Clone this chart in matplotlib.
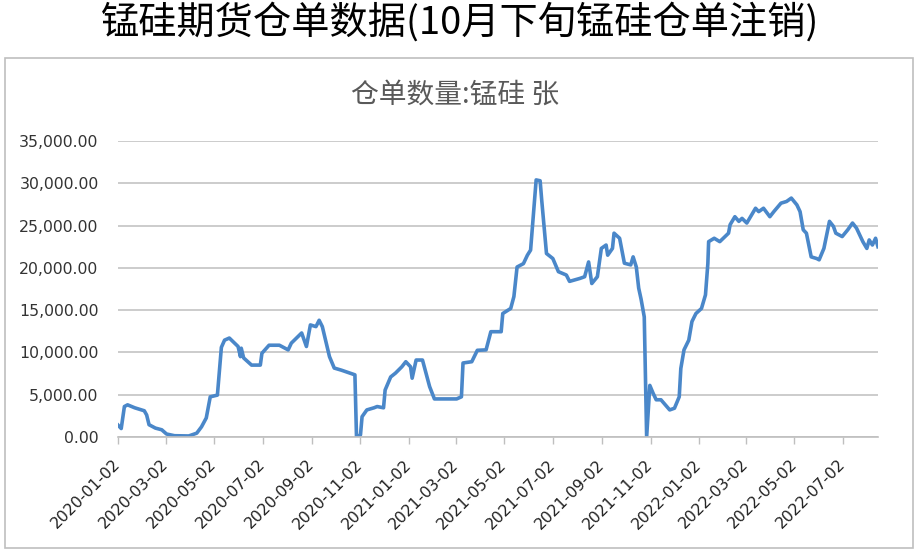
import matplotlib
matplotlib.use("Agg")
import matplotlib.pyplot as plt
import pandas as pd
import numpy as np
from matplotlib.patches import Rectangle

# warehouse receipts, silicon manganese
dates = [
    "2020-01-02", "2020-01-06", "2020-01-10", "2020-01-14", "2020-01-23", "2020-02-04",
    "2020-02-07", "2020-02-10", "2020-02-18", "2020-02-26", "2020-03-03", "2020-03-13",
    "2020-03-31", "2020-04-10", "2020-04-16", "2020-04-22", "2020-04-27", "2020-05-06",
    "2020-05-11", "2020-05-15", "2020-05-21", "2020-06-01", "2020-06-04", "2020-06-05",
    "2020-06-08", "2020-06-18", "2020-06-29", "2020-07-01", "2020-07-10", "2020-07-23",
    "2020-08-03", "2020-08-07", "2020-08-20", "2020-08-26", "2020-08-31", "2020-09-07",
    "2020-09-11", "2020-09-15", "2020-09-24", "2020-09-30", "2020-10-09", "2020-10-26",
    "2020-10-28", "2020-11-02", "2020-11-04", "2020-11-10", "2020-11-19", "2020-11-23",
    "2020-12-01", "2020-12-03", "2020-12-10", "2020-12-16", "2020-12-24", "2020-12-29",
    "2021-01-04", "2021-01-06", "2021-01-11", "2021-01-19", "2021-01-25", "2021-01-28",
    "2021-02-03", "2021-03-03", "2021-03-09", "2021-03-11", "2021-03-22", "2021-03-29",
    "2021-04-09", "2021-04-15", "2021-04-28", "2021-04-30", "2021-05-10", "2021-05-14",
    "2021-05-18", "2021-05-26", "2021-05-31", "2021-06-04", "2021-06-08", "2021-06-11",
    "2021-06-16", "2021-06-18", "2021-06-24", "2021-07-02", "2021-07-09", "2021-07-19",
    "2021-07-23", "2021-08-05", "2021-08-11", "2021-08-16", "2021-08-20", "2021-08-27",
    "2021-09-01", "2021-09-07", "2021-09-09", "2021-09-15", "2021-09-17", "2021-09-24",
    "2021-09-30", "2021-10-08", "2021-10-11", "2021-10-15", "2021-10-18", "2021-10-21",
    "2021-10-25", "2021-10-28", "2021-11-01", "2021-11-05", "2021-11-09", "2021-11-15",
    "2021-11-26", "2021-12-02", "2021-12-08", "2021-12-10", "2021-12-14", "2021-12-20",
    "2021-12-24", "2021-12-29", "2022-01-05", "2022-01-10", "2022-01-13", "2022-01-14",
    "2022-01-21", "2022-01-28", "2022-02-08", "2022-02-10", "2022-02-16", "2022-02-21",
    "2022-02-25", "2022-03-03", "2022-03-14", "2022-03-18", "2022-03-24", "2022-04-01",
    "2022-04-06", "2022-04-15", "2022-04-22", "2022-04-28", "2022-05-05", "2022-05-09",
    "2022-05-13", "2022-05-17", "2022-05-23", "2022-05-30", "2022-06-02", "2022-06-08",
    "2022-06-15", "2022-06-20", "2022-06-23", "2022-07-01", "2022-07-08", "2022-07-14",
    "2022-07-19", "2022-07-27", "2022-08-01", "2022-08-04", "2022-08-08", "2022-08-12",
    "2022-08-15",
]
receipts = [
    1400, 1000, 3600, 3800, 3450, 3100,
    2600, 1450, 1050, 850, 350, 150,
    120, 450, 1200, 2250, 4750, 4950,
    10600, 11450, 11700, 10700, 9500, 10500,
    9350, 8500, 8500, 9900, 10850, 10850,
    10300, 11100, 12300, 10700, 13250, 13050,
    13800, 13050, 9500, 8150, 7900, 7350,
    0, 250, 2400, 3200, 3450, 3600,
    3450, 5550, 7100, 7550, 8300, 8900,
    8300, 6950, 9100, 9100, 7000, 5950,
    4500, 4500, 4750, 8750, 8900, 10250,
    10300, 12450, 12450, 14600, 15200, 16600,
    20100, 20500, 21500, 22100, 26800, 30400,
    30300, 28000, 21700, 21100, 19550, 19150,
    18400, 18750, 18950, 20700, 18150, 18950,
    22300, 22700, 21500, 22300, 24100, 23500,
    20550, 20350, 21300, 20100, 17600, 16300,
    14200, 0, 6100, 5200, 4400, 4400,
    3200, 3400, 4750, 8100, 10300, 11450,
    13650, 14600, 15200, 16800, 20500, 23100,
    23500, 23100, 24100, 25100, 26050, 25500,
    25850, 25300, 27050, 26650, 27050, 26050,
    26650, 27650, 27850, 28250, 27450, 26650,
    24500, 24100, 21300, 21100, 20950, 22300,
    25500, 24900, 24100, 23700, 24500, 25300,
    24700, 23100, 22300, 23300, 22700, 23500,
    22500,
]
tick_labels = [
    "2020-01-02", "2020-03-02", "2020-05-02", "2020-07-02", "2020-09-02", "2020-11-02",
    "2021-01-02", "2021-03-02", "2021-05-02", "2021-07-02", "2021-09-02", "2021-11-02",
    "2022-01-02", "2022-03-02", "2022-05-02", "2022-07-02",
]
y_ticks = [0, 5000, 10000, 15000, 20000, 25000, 30000, 35000]

main_title = "锰硅期货仓单数据(10月下旬锰硅仓单注销)"
chart_title = "仓单数量:锰硅 张"

plt.rcParams['font.family'] = ['Noto Sans CJK SC', 'DejaVu Sans']

x = pd.to_datetime(dates)
tick_dates = pd.to_datetime(tick_labels)

fig = plt.figure(figsize=(9.2, 5.5), dpi=100)
ax = fig.add_axes([0.1283, 0.2055, 0.826, 0.5381])

# excel-like chart frame
fig.patches.append(Rectangle((0.0054, 0.0036), 0.987, 0.891, transform=fig.transFigure,
                             fill=False, edgecolor='#bfbfbf', linewidth=1.2))

ax.plot(x, receipts, color='#4a87c9', linewidth=2.6, solid_joinstyle='round')

ax.set_xlim(x[0], x[-1])
ax.set_ylim(0, 35000)
ax.set_yticks(y_ticks)
ax.set_yticklabels([f"{v:,.2f}" for v in y_ticks], family='DejaVu Sans', fontsize=11.3, color='#333333')
ax.set_xticks(tick_dates)
ax.set_xticklabels(tick_labels, family='DejaVu Sans',
                   fontsize=11.3, color='#222222', rotation=45, ha='right', va='center',
                   rotation_mode='anchor')
ax.tick_params(axis='y', length=0, pad=14)
ax.tick_params(axis='x', length=5, color='#bfbfbf', width=1, pad=13)
ax.grid(axis='y', color='#c4c4c4', linewidth=1.2)
ax.set_axisbelow(True)
for s in ['top', 'right', 'left']:
    ax.spines[s].set_visible(False)
ax.spines['bottom'].set_color('#bfbfbf')
ax.spines['bottom'].set_linewidth(1.2)

fig.text(0.5, 0.958, main_title, ha='center', va='center', fontsize=27.5, color='black')
fig.text(0.495, 0.828, chart_title, ha='center', va='center', fontsize=20, color='#595959')

fig.savefig("out.png", dpi=100)
